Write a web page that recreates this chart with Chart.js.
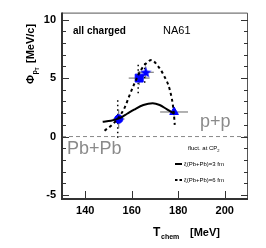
<!DOCTYPE html>
<html>
<head>
<meta charset="utf-8">
<script src="https://cdn.jsdelivr.net/npm/chart.js@4.4.0/dist/chart.umd.min.js"></script>
<style>
html, body { margin: 0; padding: 0; background: #fff; }
#wrap { width: 266px; height: 248px; }
</style>
</head>
<body>
<div id="wrap"><canvas id="myChart" width="266" height="248"></canvas></div>
<script>
// measured points (circle, square, star, triangle)
var tChem = [154.4, 163.2, 166.0, 178.2];
var phiPt = [1.5, 5.0, 5.5, 2.1];
var errT = [2.5, 4.5, 3.5, 6.0];
var errPhi = [0.8, 0.6, 0.5, 0.3];
var sysPhi = [1.6, 1.3, 0.9, 0.0];

// model curves
var xi3T = [147.5, 151.0, 154.5, 158.0, 161.0, 165.0, 169.0, 172.0, 175.0, 178.3];
var xi3Phi = [1.27, 1.35, 1.55, 1.95, 2.3, 2.7, 2.85, 2.7, 2.35, 1.95];
var xi6T = [148.3, 151.5, 154.3, 157.0, 159.0, 161.3, 164.0, 166.4, 168.5, 171.0, 173.6, 176.5, 178.0, 178.5];
var xi6Phi = [0.5, 1.0, 1.6, 2.5, 3.5, 4.6, 5.7, 6.3, 6.55, 6.1, 5.3, 3.9, 2.2, 1.0];

var xTicks = [140, 160, 180, 200];
var yTicks = [-5, 0, 5, 10];
var xMin = 130, xMax = 210;
var yMin = -5.34, yMax = 10.6;

var blue = '#0000ff';
var font = '"Liberation Sans", Arial, Helvetica, sans-serif';

function pairs(xs, ys) {
    var out = [];
    for (var i = 0; i < xs.length; i++) {
        out.push({ x: xs[i], y: ys[i] });
    }
    return out;
}

// filled star marker
var starImg = document.createElement('canvas');
starImg.width = 12;
starImg.height = 12;
(function() {
    var c = starImg.getContext('2d');
    c.fillStyle = blue;
    c.beginPath();
    for (var i = 0; i < 10; i++) {
        var r = (i % 2 == 0) ? 6 : 2.6;
        var a = -Math.PI / 2 + i * Math.PI / 5;
        var px = 6 + r * Math.cos(a);
        var py = 6.5 + r * Math.sin(a);
        if (i == 0) c.moveTo(px, py); else c.lineTo(px, py);
    }
    c.closePath();
    c.fill();
})();

var errorBars = {
    id: 'errorBars',
    beforeDatasetsDraw: function(chart) {
        var ctx = chart.ctx;
        var xs = chart.scales.x, ys = chart.scales.y;
        ctx.save();
        for (var i = 0; i < tChem.length; i++) {
            var px = xs.getPixelForValue(tChem[i]);
            var py = ys.getPixelForValue(phiPt[i]);
            // systematic (dotted)
            if (sysPhi[i] > 0) {
                ctx.strokeStyle = '#000';
                ctx.lineWidth = 1.5;
                ctx.setLineDash([1.5, 3]);
                ctx.beginPath();
                ctx.moveTo(px - 1, ys.getPixelForValue(phiPt[i] - sysPhi[i]));
                ctx.lineTo(px - 1, ys.getPixelForValue(phiPt[i] + sysPhi[i]));
                ctx.stroke();
            }
            ctx.setLineDash([]);
            ctx.strokeStyle = '#666';
            ctx.lineWidth = 1;
            ctx.beginPath();
            ctx.moveTo(xs.getPixelForValue(tChem[i] - errT[i]), py);
            ctx.lineTo(xs.getPixelForValue(tChem[i] + errT[i]), py);
            ctx.moveTo(px, ys.getPixelForValue(phiPt[i] - errPhi[i]));
            ctx.lineTo(px, ys.getPixelForValue(phiPt[i] + errPhi[i]));
            ctx.stroke();
        }
        ctx.restore();
    }
};

var frameAndText = {
    id: 'frameAndText',
    afterDraw: function(chart) {
        var ctx = chart.ctx;
        var a = chart.chartArea;
        var xs = chart.scales.x, ys = chart.scales.y;
        ctx.save();
        // frame
        ctx.strokeStyle = '#555';
        ctx.lineWidth = 1;
        ctx.beginPath();
        ctx.moveTo(a.left, a.top + 0.5);
        ctx.lineTo(a.right - 0.5, a.top + 0.5);
        ctx.lineTo(a.right - 0.5, a.bottom);
        ctx.stroke();
        ctx.strokeStyle = '#333';
        ctx.lineWidth = 2;
        ctx.beginPath();
        ctx.moveTo(a.left, a.top);
        ctx.lineTo(a.left, a.bottom);
        ctx.lineTo(a.right, a.bottom);
        ctx.stroke();
        // inward ticks
        ctx.lineWidth = 1;
        ctx.beginPath();
        for (var v = Math.ceil(yMin); v <= Math.floor(yMax); v++) {
            var py = Math.round(ys.getPixelForValue(v)) + 0.5;
            var len = (v % 5 == 0) ? 7 : 4;
            ctx.moveTo(a.left, py);
            ctx.lineTo(a.left + len, py);
            ctx.moveTo(a.right, py);
            ctx.lineTo(a.right - len, py);
        }
        for (var j = 0; j < xTicks.length; j++) {
            var px = Math.round(xs.getPixelForValue(xTicks[j])) + 0.5;
            ctx.moveTo(px, a.bottom);
            ctx.lineTo(px, a.bottom - 8);
        }
        ctx.stroke();

        ctx.fillStyle = '#000';
        ctx.textBaseline = 'alphabetic';
        ctx.textAlign = 'left';
        ctx.font = 'bold 10px ' + font;
        ctx.fillText('all charged', 73, 34);
        ctx.font = '11px ' + font;
        ctx.fillText('NA61', 163, 34);

        ctx.fillStyle = '#8a8a8a';
        ctx.font = '18px ' + font;
        ctx.fillText('p+p', 200, 127);
        ctx.fillText('Pb+Pb', 67, 154);

        // legend
        ctx.fillStyle = '#000';
        ctx.font = '6px ' + font;
        ctx.fillText('fluct. at CP', 188, 150);
        var w = ctx.measureText('fluct. at CP').width;
        ctx.font = '4px ' + font;
        ctx.fillText('2', 188 + w, 152);
        ctx.font = '6px ' + font;
        ctx.fillText('\u03be(Pb+Pb)=3 fm', 184, 166);
        ctx.fillText('\u03be(Pb+Pb)=6 fm', 184, 182);
        ctx.strokeStyle = '#000';
        ctx.lineWidth = 2;
        ctx.beginPath();
        ctx.moveTo(175, 164);
        ctx.lineTo(182, 164);
        ctx.stroke();
        ctx.setLineDash([2.5, 2]);
        ctx.beginPath();
        ctx.moveTo(175, 180);
        ctx.lineTo(182, 180);
        ctx.stroke();
        ctx.setLineDash([]);

        // x title
        ctx.font = 'bold 12px ' + font;
        ctx.fillText('T', 153, 236);
        ctx.font = 'bold 7px ' + font;
        ctx.fillText('chem', 161, 239);
        ctx.font = 'bold 11px ' + font;
        ctx.fillText('[MeV]', 190, 236);

        // y title
        ctx.translate(34, 84);
        ctx.rotate(-Math.PI / 2);
        ctx.font = 'bold 11px ' + font;
        ctx.fillText('\u03a6', 0, 0);
        var fw = ctx.measureText('\u03a6').width;
        ctx.font = 'bold 7px ' + font;
        ctx.fillText('p', fw + 0.5, 3);
        ctx.font = 'bold 5px ' + font;
        ctx.fillText('T', fw + 4.5, 5);
        ctx.font = 'bold 11px ' + font;
        ctx.fillText('[MeV/c]', fw + 12, 0);
        ctx.restore();
    }
};

var ctx = document.getElementById('myChart').getContext('2d');
var myChart = new Chart(ctx, {
    type: 'scatter',
    data: {
        datasets: [{
            label: 'zero',
            data: [{ x: xMin, y: 0 }, { x: xMax, y: 0 }],
            showLine: true,
            borderColor: '#888',
            borderWidth: 1,
            borderDash: [4, 3],
            pointRadius: 0
        }, {
            label: 'xi=6 fm',
            data: pairs(xi6T, xi6Phi),
            showLine: true,
            borderColor: '#000',
            borderWidth: 2,
            borderDash: [3, 3],
            cubicInterpolationMode: 'monotone',
            pointRadius: 0
        }, {
            label: 'xi=3 fm',
            data: pairs(xi3T, xi3Phi),
            showLine: true,
            borderColor: '#000',
            borderWidth: 2,
            cubicInterpolationMode: 'monotone',
            pointRadius: 0
        }, {
            label: 'NA61',
            data: pairs(tChem, phiPt),
            pointStyle: ['circle', 'rect', starImg, 'triangle'],
            pointRadius: [4.2, 5.6, 6, 5],
            backgroundColor: blue,
            borderColor: blue,
            borderWidth: 1
        }]
    },
    options: {
        responsive: false,
        devicePixelRatio: 1,
        animation: false,
        layout: { padding: { left: 0, top: 11, right: 18, bottom: 0 } },
        plugins: { legend: { display: false }, tooltip: { enabled: false } },
        scales: {
            x: {
                type: 'linear',
                min: xMin,
                max: xMax,
                afterBuildTicks: function(scale) {
                    scale.ticks = xTicks.map(function(v) { return { value: v }; });
                },
                afterFit: function(scale) { scale.height = 49; },
                grid: { display: false, drawTicks: false, tickLength: 0 },
                border: { display: false },
                ticks: {
                    padding: 5,
                    maxRotation: 0,
                    color: '#000',
                    font: { family: font, size: 11, weight: 'bold' }
                }
            },
            y: {
                type: 'linear',
                min: yMin,
                max: yMax,
                afterBuildTicks: function(scale) {
                    scale.ticks = yTicks.map(function(v) { return { value: v }; });
                },
                afterFit: function(scale) { scale.width = 62; },
                grid: { display: false, drawTicks: false, tickLength: 0 },
                border: { display: false },
                ticks: {
                    padding: 6,
                    color: '#000',
                    font: { family: font, size: 11, weight: 'bold' }
                }
            }
        }
    },
    plugins: [errorBars, frameAndText]
});
</script>
</body>
</html>
